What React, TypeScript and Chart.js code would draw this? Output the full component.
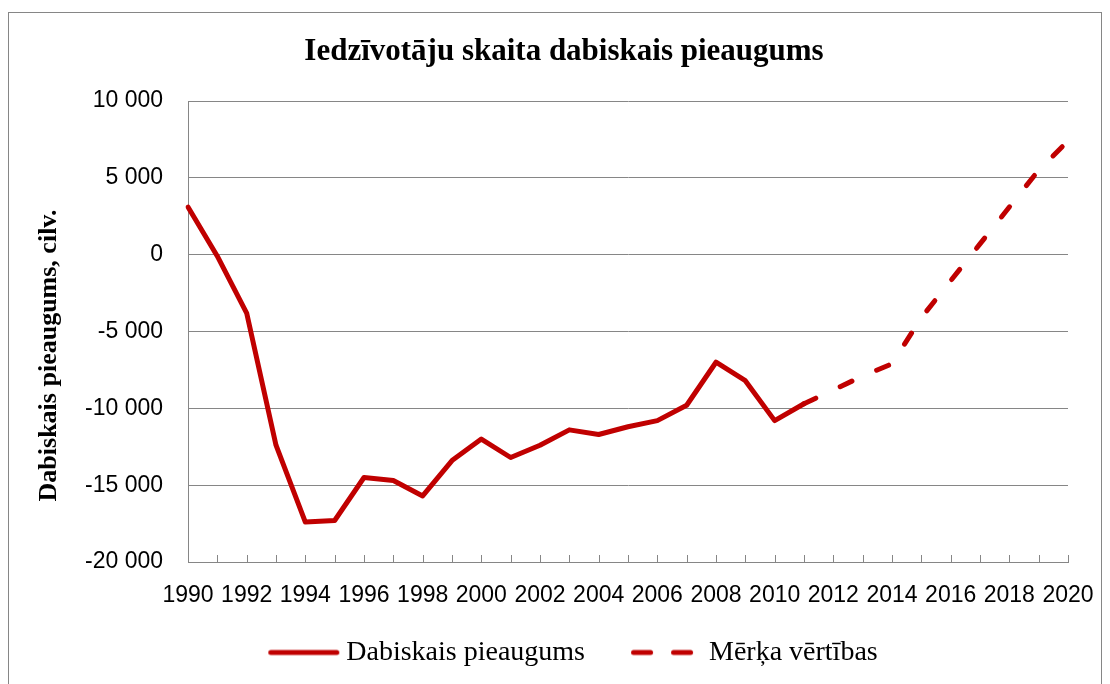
import React, { useEffect, useRef } from 'react';
import { Chart, registerables } from 'chart.js';

Chart.register(...registerables);

const YEARS = [
  '1990', '1991', '1992', '1993', '1994', '1995', '1996', '1997', '1998', '1999',
  '2000', '2001', '2002', '2003', '2004', '2005', '2006', '2007', '2008', '2009',
  '2010', '2011', '2012', '2013', '2014', '2015', '2016', '2017', '2018', '2019', '2020',
];

// Dabiskais pieaugums, 1990–2011
const ACTUAL = [
  3100, -100, -3800, -12400, -17400, -17300, -14500, -14700, -15700, -13400,
  -12000, -13200, -12400, -11400, -11700, -11200, -10800, -9800, -7000, -8200,
  -10800, -9700,
];

// Mērķa vērtības, 2011–2020
const TARGET_START = '2011';
const TARGET = [-9700, -8800, -7900, -7100, -4100, -1700, 700, 3100, 5500, 7400];

const SERIES_NAMES = ['Dabiskais pieaugums', 'Mērķa vērtības'];
const TITLE = 'Iedzīvotāju skaita dabiskais pieaugums';
const Y_TITLE = 'Dabiskais pieaugums, cilv.';
const Y_MIN = -20000;
const Y_MAX = 10000;
const Y_STEP = 5000;

const RED = '#C00000';
const GRID = '#868686';

const fmt = (v: number) => {
  const s = Math.abs(v).toString().replace(/\B(?=(\d{3})+(?!\d))/g, ' ');
  return v < 0 ? '-' + s : s;
};

// legend line sample drawn into a small canvas (segments in sample coordinates)
const makeSample = (segments: [number, number][]) => {
  const c = document.createElement('canvas');
  c.width = 98;
  c.height = 8;
  const g = c.getContext('2d')!;
  g.strokeStyle = RED;
  g.lineWidth = 5;
  g.lineCap = 'round';
  segments.forEach(([a, b]) => {
    g.beginPath();
    g.moveTo(a, 4);
    g.lineTo(b, 4);
    g.stroke();
  });
  return c;
};

const innerTicks = {
  id: 'innerTicks',
  beforeDatasetsDraw(chart: any) {
    const { ctx, chartArea } = chart;
    const xs = chart.scales.x;
    ctx.save();
    ctx.strokeStyle = GRID;
    ctx.lineWidth = 1;
    for (let i = 0; i < YEARS.length; i++) {
      const px = Math.round(xs.getPixelForValue(i)) + 0.5;
      ctx.beginPath();
      ctx.moveTo(px, chartArea.bottom);
      ctx.lineTo(px, chartArea.bottom - 7);
      ctx.stroke();
    }
    ctx.restore();
  },
};

const yTitle = {
  id: 'yTitle',
  afterDraw(chart: any) {
    const { ctx, chartArea } = chart;
    ctx.save();
    ctx.translate(40, (chartArea.top + chartArea.bottom) / 2 + 24);
    ctx.rotate(-Math.PI / 2);
    ctx.font = 'bold 26px "Liberation Serif"';
    ctx.fillStyle = '#000';
    ctx.textAlign = 'center';
    ctx.textBaseline = 'middle';
    ctx.fillText(Y_TITLE, 0, 0);
    ctx.restore();
  },
};

export default function App() {
  const ref = useRef<HTMLCanvasElement>(null);

  useEffect(() => {
    if (!ref.current) return;
    const startIdx = YEARS.indexOf(TARGET_START);
    const actualData = YEARS.map((_, i) => (i < ACTUAL.length ? ACTUAL[i] : null));
    const targetData = YEARS.map((_, i) =>
      i >= startIdx && i - startIdx < TARGET.length ? TARGET[i - startIdx] : null
    );
    const solidSample = makeSample([[28.5, 94.5]]);
    const dashSample = makeSample([
      [28.5, 45.5],
      [68.5, 85.5],
    ]);

    const chart = new Chart(ref.current, {
      type: 'line',
      data: {
        labels: YEARS,
        datasets: [
          {
            label: SERIES_NAMES[0],
            data: actualData,
            borderColor: RED,
            backgroundColor: RED,
            borderWidth: 5,
            pointRadius: 0,
            tension: 0,
            borderCapStyle: 'round',
            borderJoinStyle: 'round',
            fill: false,
          },
          {
            label: SERIES_NAMES[1],
            data: targetData,
            borderColor: RED,
            backgroundColor: RED,
            borderWidth: 5,
            borderDash: [13, 27],
            pointRadius: 0,
            tension: 0,
            borderCapStyle: 'round',
            borderJoinStyle: 'round',
            fill: false,
          },
        ],
      },
      options: {
        responsive: false,
        animation: false,
        devicePixelRatio: 1,
        layout: { padding: { left: 18, right: 0, top: 0, bottom: 14.5 } },
        scales: {
          x: {
            type: 'category',
            offset: false,
            grid: { display: false, drawTicks: false },
            border: { display: true, color: GRID, width: 1 },
            ticks: {
              autoSkip: false,
              maxRotation: 0,
              minRotation: 0,
              padding: 19.5,
              color: '#000',
              font: { family: 'Liberation Sans', size: 23, lineHeight: 1.26 },
              callback: (_v: any, i: number) => (i % 2 === 0 ? YEARS[i] : ''),
            },
            afterFit: (s: any) => {
              s.height = 48.5;
              s.paddingRight = 33;
            },
          },
          y: {
            min: Y_MIN,
            max: Y_MAX,
            grid: { color: GRID, lineWidth: 1, drawTicks: false },
            border: { display: true, color: GRID, width: 1 },
            ticks: {
              stepSize: Y_STEP,
              padding: 25,
              color: '#000',
              font: { family: 'Liberation Sans', size: 23 },
              callback: (v: any) => fmt(Number(v)),
            },
            afterFit: (s: any) => {
              s.width = 161;
            },
          },
        },
        plugins: {
          tooltip: { enabled: false },
          title: {
            display: true,
            text: TITLE,
            color: '#000',
            font: { family: 'Liberation Serif', size: 31, weight: 'bold' },
            padding: { top: 20, bottom: 30.8 },
          },
          legend: {
            position: 'bottom',
            labels: {
              usePointStyle: true,
              pointStyleWidth: 82,
              padding: 28,
              color: '#000',
              font: { family: 'Liberation Serif', size: 28 },
              generateLabels: () => [
                {
                  text: SERIES_NAMES[0],
                  fillStyle: RED,
                  strokeStyle: RED,
                  fontColor: '#000',
                  lineWidth: 0,
                  pointStyle: solidSample,
                  hidden: false,
                  datasetIndex: 0,
                },
                {
                  text: SERIES_NAMES[1],
                  fillStyle: RED,
                  strokeStyle: RED,
                  fontColor: '#000',
                  lineWidth: 0,
                  pointStyle: dashSample,
                  hidden: false,
                  datasetIndex: 1,
                },
              ],
            },
          },
        },
      } as any,
      plugins: [innerTicks, yTitle],
    });
    return () => chart.destroy();
  }, []);

  return (
    <div
      style={{
        marginTop: 4,
        width: 1094,
        height: 680,
        border: `1px solid ${GRID}`,
        boxSizing: 'border-box',
        background: '#fff',
      }}
    >
      <canvas ref={ref} width={1092} height={678} style={{ display: 'block', width: 1092, height: 678 }} />
    </div>
  );
}
